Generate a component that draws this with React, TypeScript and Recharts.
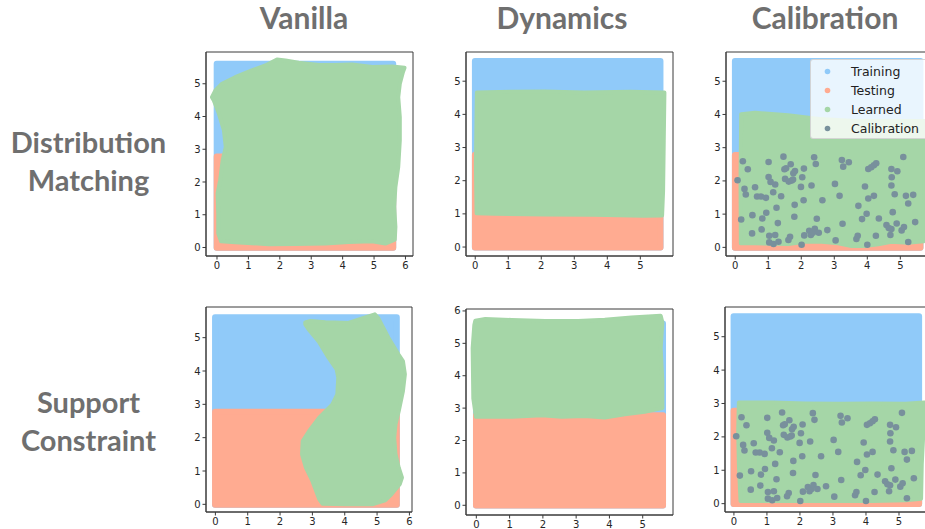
import React from "react";
import { ScatterChart, Scatter, XAxis, YAxis, Legend, Polygon, ReferenceArea } from "recharts";

type Pt = { x: number; y: number };

const seriesNames = ["Training", "Testing", "Learned", "Calibration"];
const seriesColors = ["#90CAF9", "#FFAB91", "#A5D6A7", "#78909C"];

const columnTitles = ["Vanilla", "Dynamics", "Calibration"];
const rowTitles = [
  ["Distribution", "Matching"],
  ["Support", "Constraint"],
];

const ticksToFive = [0, 1, 2, 3, 4, 5];
const ticksToSix = [0, 1, 2, 3, 4, 5, 6];

const pts = (arr: number[][]): Pt[] => arr.map(([x, y]) => ({ x, y }));

// training / testing regions (corners)
const trainingRegion = pts([[-0.01, -0.01], [5.61, -0.01], [5.61, 5.61], [-0.01, 5.61]]);
const testingRegion = pts([[-0.01, -0.01], [5.61, -0.01], [5.61, 2.78], [-0.01, 2.78]]);

// learned region outlines, one per panel
const learnedVanillaDM = pts([
  [-0.16, 4.59], [-0.05, 4.8], [0.16, 5.0], [0.58, 5.2], [1.11, 5.41], [1.54, 5.56], [1.91, 5.74],
  [2.18, 5.71], [2.6, 5.64], [3.24, 5.57], [3.77, 5.57], [4.3, 5.59], [4.94, 5.51], [5.57, 5.53],
  [5.97, 5.49], [5.92, 5.36], [5.82, 5.0], [5.77, 4.59], [5.82, 3.98], [5.82, 3.27], [5.77, 2.46],
  [5.68, 1.85], [5.64, 1.24], [5.68, 0.63], [5.66, 0.24], [5.36, 0.12], [4.94, 0.19], [4.19, 0.17],
  [3.45, 0.12], [2.49, 0.11], [1.65, 0.1], [0.58, 0.16], [0.13, 0.19], [0.04, 0.43], [0.04, 1.04],
  [0.02, 1.65], [0.1, 2.05], [0.18, 2.66], [0.28, 3.07], [0.22, 3.58], [0.06, 4.09], [-0.1, 4.49],
]);
const learnedDynamicsDM = pts([
  [0.05, 4.66], [1.1, 4.68], [2.1, 4.69], [3.3, 4.66], [4.7, 4.68], [5.73, 4.66], [5.71, 3.2],
  [5.69, 1.7], [5.66, 0.95], [5.1, 0.94], [3.6, 0.97], [2.1, 0.98], [0.6, 1.0], [0.04, 1.02],
  [0.02, 2.5], [0.04, 4.0],
]);
const learnedCalibrationDM = pts([
  [0.18, 4.01], [0.6, 4.05], [1.6, 3.98], [2.1, 3.92], [2.6, 3.86], [3.5, 3.81], [4.5, 3.8],
  [5.78, 3.8], [5.74, 2.9], [5.72, 1.5], [5.7, 0.18], [5.23, 0.14], [4.73, 0.17], [4.33, 0.09],
  [3.92, 0.04], [3.52, 0.04], [3.12, 0.12], [2.62, 0.17], [2.11, 0.17], [1.61, 0.1], [0.6, 0.12],
  [0.17, 0.12], [0.16, 2.0],
]);
const learnedVanillaSC = pts([
  [2.78, 5.46], [2.94, 5.5], [3.4, 5.46], [4.12, 5.44], [4.54, 5.58], [4.93, 5.7], [5.04, 5.58],
  [5.35, 5.0], [5.66, 4.5], [5.8, 4.3], [5.86, 3.9], [5.8, 3.4], [5.67, 2.8], [5.57, 2.4],
  [5.53, 2.0], [5.57, 1.5], [5.67, 1.1], [5.77, 0.8], [5.7, 0.6], [5.45, 0.31], [5.25, 0.12],
  [4.85, 0.0], [4.02, 0.0], [3.31, 0.02], [3.21, 0.16], [3.0, 0.7], [2.8, 1.1], [2.68, 1.5],
  [2.7, 1.9], [2.9, 2.2], [3.21, 2.6], [3.62, 3.0], [3.77, 3.3], [3.8, 3.8], [3.75, 4.05],
  [3.5, 4.4], [3.2, 4.88], [2.9, 5.23], [2.78, 5.4],
]);
const learnedDynamicsSC = pts([
  [-0.03, 5.7], [0.27, 5.75], [1.07, 5.72], [2.07, 5.69], [3.06, 5.69], [3.86, 5.73], [4.66, 5.8],
  [5.54, 5.85], [5.59, 5.65], [5.54, 4.85], [5.59, 3.82], [5.59, 3.0], [5.06, 2.89], [4.46, 2.81],
  [3.86, 2.71], [3.26, 2.76], [2.56, 2.73], [1.97, 2.78], [1.07, 2.73], [-0.01, 2.73], [-0.09, 3.3],
  [-0.11, 4.85], [-0.06, 5.57],
]);
const learnedCalibrationSC = pts([
  [0.15, 3.03], [1.15, 3.03], [2.16, 3.0], [3.17, 2.99], [4.19, 3.0], [5.2, 2.99], [5.77, 3.03],
  [5.74, 2.18], [5.69, 1.18], [5.67, 0.15], [5.2, 0.1], [4.19, 0.08], [3.17, 0.08], [2.16, 0.08],
  [1.15, 0.08], [0.2, 0.08], [0.15, 1.18], [0.13, 2.18],
]);

// calibration set (same points in both calibration panels)
const calibrationPoints = pts([
  [0.07, 2.02], [0.23, 2.59], [0.38, 2.35], [0.28, 1.76], [0.32, 1.59], [0.18, 0.84], [0.51, 0.42],
  [0.52, 0.97], [0.6, 1.81], [0.66, 1.53], [0.78, 1.53], [0.93, 1.49], [0.82, 0.87], [0.94, 1.04],
  [0.8, 0.54], [1.01, 2.57], [1.01, 2.12], [1.07, 1.97], [1.21, 1.89], [1.15, 1.66], [1.25, 1.19],
  [1.29, 0.73], [1.21, 0.37], [1.03, 0.35], [1.03, 0.15], [1.16, 0.1], [1.31, 0.17], [1.39, 1.54],
  [1.46, 2.73], [1.49, 2.35], [1.54, 2.38], [1.51, 2.06], [1.62, 1.98], [1.68, 2.5], [1.71, 2.01],
  [1.76, 2.23], [1.81, 2.3], [1.75, 2.04], [1.8, 1.28], [1.79, 0.92], [1.66, 0.32], [1.61, 0.22],
  [1.99, 1.82], [2.03, 2.11], [2.08, 2.37], [2.07, 1.42], [2.09, 0.36], [2.01, 0.08], [2.24, 0.5],
  [2.29, 0.37], [2.35, 0.44], [2.41, 0.56], [2.53, 0.44], [2.31, 1.86], [2.39, 2.71], [2.44, 2.51],
  [2.47, 0.86], [2.64, 1.42], [2.79, 0.52], [3.02, 1.91], [3.04, 0.21], [3.16, 1.55], [3.25, 0.71],
  [3.23, 2.63], [3.27, 2.43], [3.44, 2.56], [3.67, 0.25], [3.71, 0.35], [3.73, 1.25], [3.84, 0.85],
  [3.93, 1.83], [3.98, 1.01], [4.03, 1.47], [4.0, 0.08], [4.03, 2.36], [4.12, 2.41], [4.2, 2.47],
  [4.27, 2.53], [4.2, 1.55], [4.26, 0.35], [4.35, 0.87], [4.58, 0.67], [4.65, 0.58], [4.7, 0.37],
  [4.73, 0.55], [4.73, 2.36], [4.74, 2.11], [4.73, 1.86], [4.77, 1.06], [4.83, 1.6], [4.91, 2.29],
  [4.89, 0.72], [5.04, 0.51], [5.11, 0.61], [5.09, 2.72], [5.17, 1.55], [5.24, 1.32], [5.24, 0.16],
  [5.39, 1.58], [5.45, 0.76],
]);

const AXIS = "#3a3a3a";
const tickStyle = { fontSize: 10, fill: "#262626", fontFamily: "DejaVu Sans" };
const LABEL = "#6f6f6f";

const noDot = () => <g />;
const regionFill = (color: string, width: number) => (props: any) =>
  <Polygon points={props.points} fill={color} stroke={color} strokeWidth={width} strokeLinejoin="round" />;
const calDot = (props: any) => <circle cx={props.cx} cy={props.cy} r={3.3} fill={seriesColors[3]} />;

function LegendBox() {
  return (
    <div
      style={{
        background: "rgba(255,255,255,0.8)",
        border: "1px solid rgba(204,204,204,0.8)",
        borderRadius: 3,
        width: 140,
        height: 80,
        boxSizing: "border-box",
        paddingTop: 1.5,
        fontFamily: "DejaVu Sans",
        fontSize: 12.5,
        color: "#222",
      }}
    >
      {seriesNames.map((name, i) => (
        <div key={name} style={{ height: 19, display: "flex", alignItems: "center" }}>
          <svg width={40} height={19}>
            <circle cx={16.5} cy={9.5} r={2.8} fill={seriesColors[i]} />
          </svg>
          <span>{name}</span>
        </div>
      ))}
    </div>
  );
}

type PanelProps = {
  left: number;
  top: number;
  w: number;
  h: number;
  xDomain: number[];
  yDomain: number[];
  xTicks: number[];
  yTicks: number[];
  learned: Pt[];
  calibration?: boolean;
  legend?: boolean;
};

function Panel(p: PanelProps) {
  const width = 36 + p.w + 6;
  const height = 6 + p.h + 24;
  return (
    <div style={{ position: "absolute", left: p.left - 36, top: p.top - 6 }}>
      <ScatterChart width={width} height={height} margin={{ top: 6, right: 6, bottom: 0, left: 0 }}>
        <XAxis type="number" dataKey="x" domain={p.xDomain} allowDataOverflow ticks={p.xTicks} interval={0}
          height={24} tickSize={3.5} tick={tickStyle} stroke={AXIS} />
        <YAxis type="number" dataKey="y" domain={p.yDomain} allowDataOverflow ticks={p.yTicks} interval={0}
          width={36} tickSize={3.5} tick={tickStyle} stroke={AXIS} />
        <Scatter name={seriesNames[0]} data={trainingRegion} fill={seriesColors[0]} shape={noDot}
          line={regionFill(seriesColors[0], 6)} isAnimationActive={false} />
        <Scatter name={seriesNames[1]} data={testingRegion} fill={seriesColors[1]} shape={noDot}
          line={regionFill(seriesColors[1], 6)} isAnimationActive={false} />
        <Scatter name={seriesNames[2]} data={p.learned} fill={seriesColors[2]} shape={noDot}
          line={regionFill(seriesColors[2], 4)} isAnimationActive={false} />
        {p.calibration && (
          <Scatter name={seriesNames[3]} data={calibrationPoints} fill={seriesColors[3]} shape={calDot}
            isAnimationActive={false} />
        )}
        {/* axes frame (top and right spines) */}
        <ReferenceArea x1={p.xDomain[0]} x2={p.xDomain[1]} y1={p.yDomain[0]} y2={p.yDomain[1]}
          fill="none" fillOpacity={0} stroke={AXIS} strokeWidth={1} ifOverflow="visible" />
        {p.legend && (
          <Legend layout="vertical" align="center" verticalAlign="middle" content={LegendBox}
            wrapperStyle={{ left: 120, top: 13, width: 140 }} />
        )}
      </ScatterChart>
    </div>
  );
}

export default function App() {
  const titleX = [304, 562, 825];
  return (
    <div style={{ position: "absolute", left: 0, top: 0, width: 925, height: 529, overflow: "hidden", background: "#fff" }}>
      <svg width={925} height={529} style={{ position: "absolute", left: 0, top: 0 }}>
        {columnTitles.map((t, i) => (
          <text key={t} x={titleX[i]} y={28.5} textAnchor="middle" fontFamily="Lato" fontWeight={700}
            fontSize={30} fill={LABEL}>{t}</text>
        ))}
        {rowTitles.map((lines, r) =>
          lines.map((line, j) => (
            <text key={line} x={88.5} y={153 + r * 260 + j * 38} textAnchor="middle" fontFamily="Lato"
              fontWeight={700} fontSize={29} fill={LABEL}>{line}</text>
          ))
        )}
      </svg>
      <Panel left={206} top={52} w={207} h={204} xDomain={[-0.35, 6.24]} yDomain={[-0.26, 5.97]}
        xTicks={ticksToSix} yTicks={ticksToFive} learned={learnedVanillaDM} />
      <Panel left={466} top={52} w={207} h={204} xDomain={[-0.28, 5.99]} yDomain={[-0.27, 5.88]}
        xTicks={ticksToFive} yTicks={ticksToFive} learned={learnedDynamicsDM} />
      <Panel left={726} top={52} w={207} h={204} xDomain={[-0.28, 5.99]} yDomain={[-0.26, 5.88]}
        xTicks={ticksToFive} yTicks={ticksToFive} learned={learnedCalibrationDM} calibration legend />
      <Panel left={206} top={307} w={206} h={205} xDomain={[-0.29, 6.08]} yDomain={[-0.23, 5.92]}
        xTicks={ticksToSix} yTicks={ticksToFive} learned={learnedVanillaSC} />
      <Panel left={466} top={309} w={207} h={206} xDomain={[-0.31, 5.91]} yDomain={[-0.3, 6.06]}
        xTicks={ticksToFive} yTicks={ticksToSix} learned={learnedDynamicsSC} />
      <Panel left={725} top={307} w={207} h={205} xDomain={[-0.27, 6.0]} yDomain={[-0.25, 5.89]}
        xTicks={ticksToFive} yTicks={ticksToFive} learned={learnedCalibrationSC} calibration />
    </div>
  );
}
